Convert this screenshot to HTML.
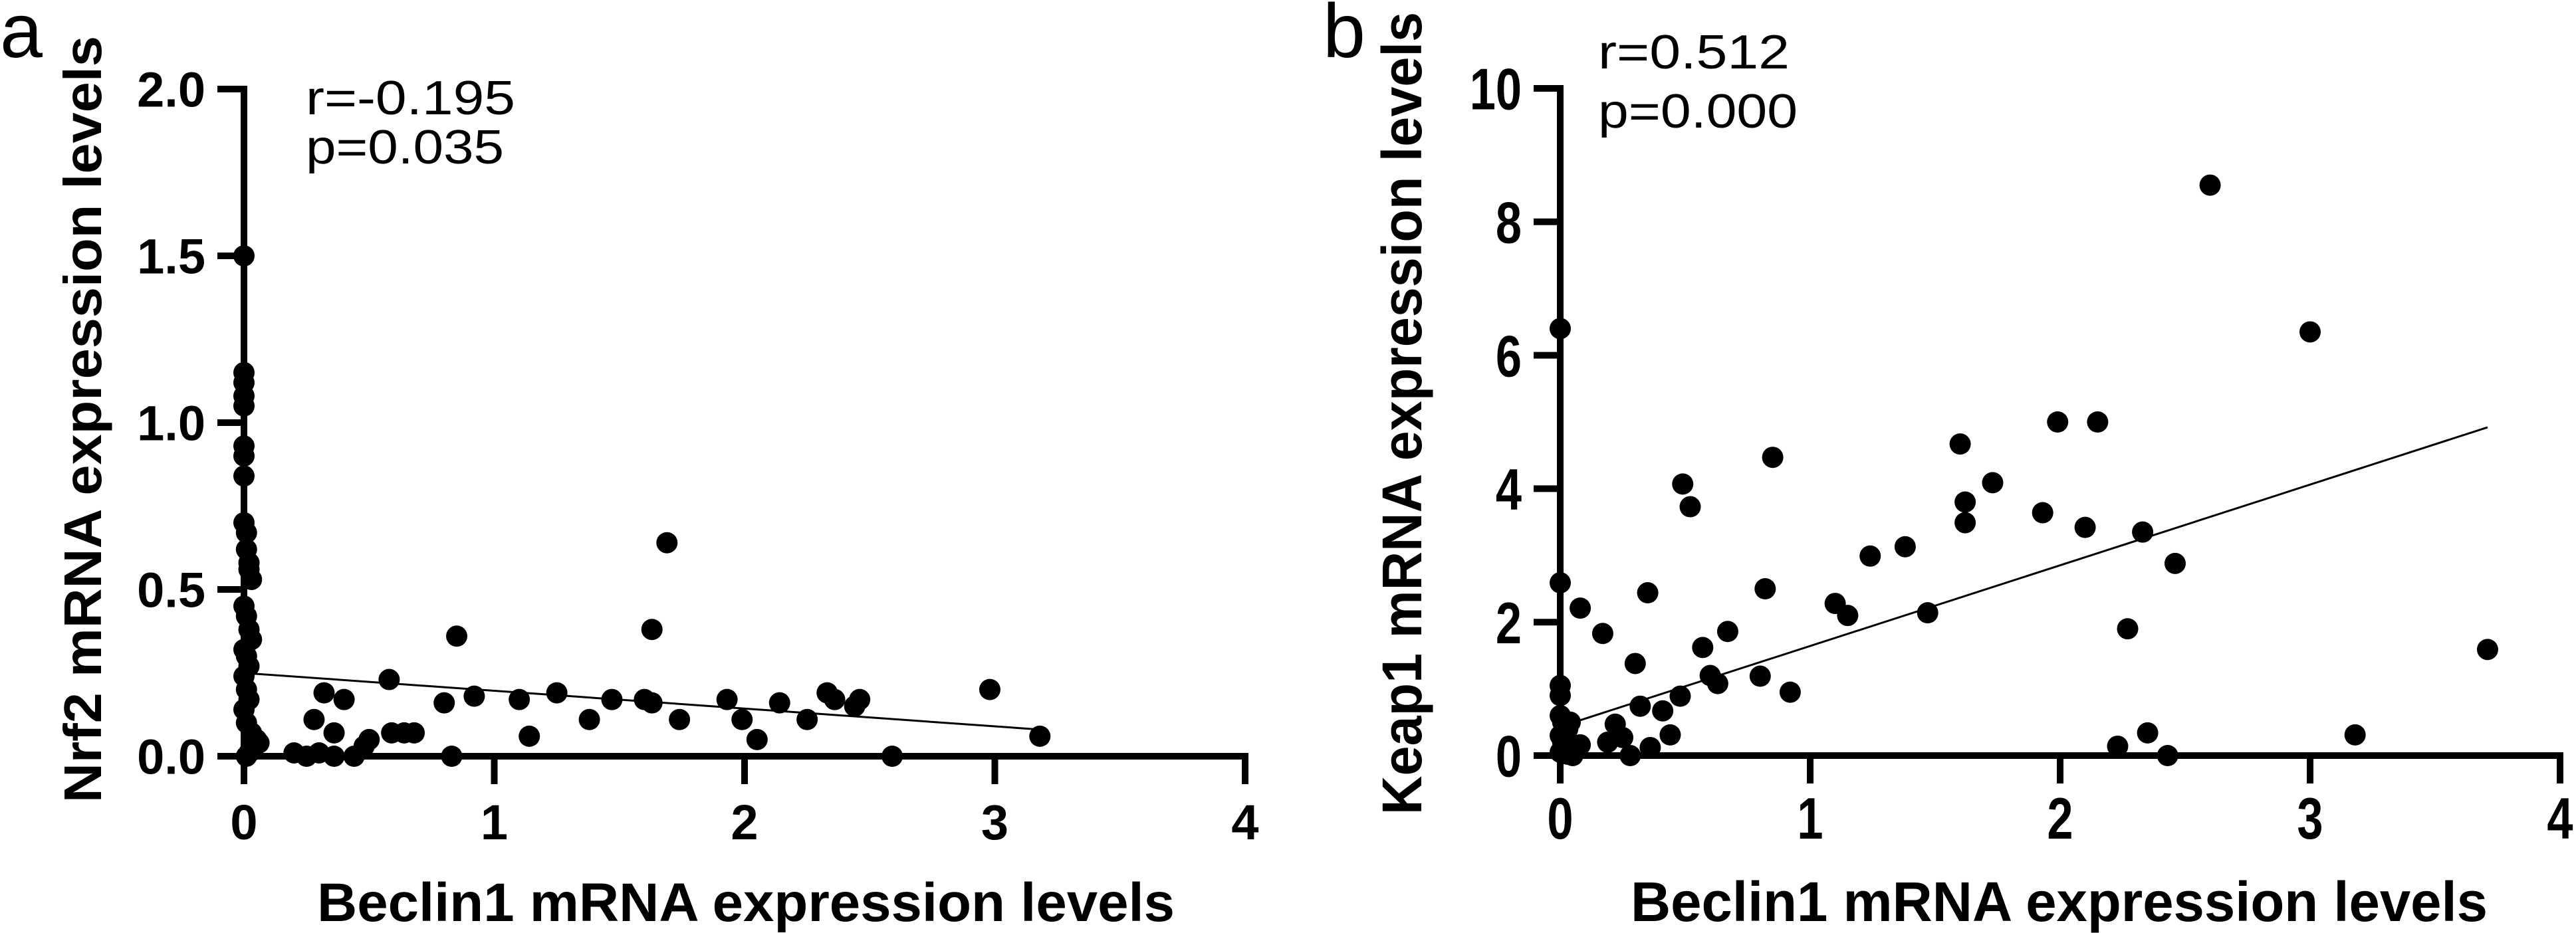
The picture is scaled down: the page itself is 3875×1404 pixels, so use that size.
<!DOCTYPE html>
<html><head><meta charset="utf-8"><style>
html,body{margin:0;padding:0;background:#fff;}
svg{display:block;}
text{font-family:"Liberation Sans",sans-serif;fill:#000;}
.tk{font-weight:bold;}
</style></head><body>
<svg id="chart" width="3875" height="1404" viewBox="0 0 3875 1404" xmlns="http://www.w3.org/2000/svg">
<g id="pa"></g>
<g id="pb"></g>
</svg>
<script>
const NS="http://www.w3.org/2000/svg";
// Panel a data
const aX=[0,0,0,0,0,0,0,0,0,0.01,0.01,0.02,0.02,0.03,0,0.01,0.02,0.03,0,0.01,0.02,0,0.01,0.02,0,0.01,0.03,0.05,0.04,0.02,0.01,0.06,
1.69,0.85,1.63,0.58,0.32,0.40,0.28,0.36,0.80,0.92,1.10,1.14,1.25,1.38,1.47,1.60,1.63,1.74,1.93,1.99,2.05,2.14,2.25,2.33,2.36,2.44,
0.20,0.25,0.30,0.36,0.44,0.48,0.50,0.59,0.64,0.68,0.83,2.46,2.59,2.98,3.18];
const aY=[1.5,1.15,1.12,1.08,1.05,0.93,0.9,0.84,0.7,0.67,0.62,0.58,0.56,0.53,0.45,0.42,0.38,0.35,0.32,0.3,0.27,0.24,0.2,0.17,0.14,0.1,0.07,0.05,0.03,0.01,0.0,0.04,
0.64,0.36,0.38,0.23,0.19,0.17,0.11,0.07,0.16,0.18,0.17,0.06,0.19,0.11,0.17,0.17,0.16,0.11,0.17,0.11,0.05,0.16,0.11,0.19,0.17,0.15,
0.01,0.0,0.01,0.0,0.0,0.03,0.05,0.07,0.07,0.07,0.0,0.17,0.0,0.2,0.06];
const aFitX=[0.03,3.18];
const aFitY=[0.248,0.08];
const aXTicks=["0","1","2","3","4"];
const aYTicks=["0.0","0.5","1.0","1.5","2.0"];
// Panel b data
const bX=[2.60,3.0,0,1.99,2.15,1.60,0.85,0.49,0.52,1.73,1.62,1.62,1.93,2.10,2.33,1.38,1.24,2.46,0,0.35,0.82,1.10,1.15,1.47,0.08,0.17,0.67,2.27,0.57,3.71,0.30,0.60,0.63,0.80,0.92,0,0,0.48,0.32,0.41,0.22,0.44,0.25,0.19,0.36,0.28,2.23,2.35,2.43,3.18,
0,0.01,0.02,0.03,0,0.01,0.02,0,0.04,0.08,0.03,0.05];
const bY=[8.55,6.35,6.4,5.0,5.0,4.67,4.47,4.07,3.73,4.09,3.8,3.49,3.64,3.42,3.35,3.13,2.99,2.88,2.59,2.44,2.5,2.28,2.1,2.14,2.21,1.83,1.86,1.9,1.62,1.59,1.38,1.2,1.08,1.19,0.95,1.05,0.9,0.89,0.74,0.67,0.47,0.31,0.27,0.2,0.12,0,0.14,0.34,0,0.31,
0.6,0.5,0.45,0.4,0.3,0.2,0.1,0.05,0.5,0.16,0.02,0.0];
const bFitX=[0.08,3.71];
const bFitY=[0.53,4.92];
const bXTicks=["0","1","2","3","4"];
const bYTicks=["0","2","4","6","8","10"];

function el(tag,attrs,parent){const e=document.createElementNS(NS,tag);for(const k in attrs)e.setAttribute(k,attrs[k]);parent.appendChild(e);return e;}

function panel(g,cfg){
  const sx=v=>cfg.x0+v*cfg.ppx;
  const sy=v=>cfg.y0-(v-0)*cfg.ppy;
  let e=el('line',{x1:cfg.x0,y1:cfg.y0,x2:sx(cfg.xmax)+5,y2:cfg.y0,stroke:'#000','stroke-width':10},g);
  
  
  e=el('line',{x1:cfg.x0,y1:cfg.y0+5,x2:cfg.x0,y2:sy(cfg.ymax)-5,stroke:'#000','stroke-width':10},g);
  
  
  cfg.xt.forEach((t,i)=>{
    const v=parseFloat(t);
    let l=el('line',{x1:sx(v),y1:cfg.y0,x2:sx(v),y2:cfg.y0+42,stroke:'#000','stroke-width':10},g);
    
    
    let tx=el('text',{x:sx(v),y:cfg.y0+125,'text-anchor':'middle','font-size':cfg.tfs,class:'tk',transform:cfg.cond?`translate(${sx(v)},0) scale(0.8,1) translate(${-sx(v)},0)`:''},g);
    tx.textContent=t;
    
    
  });
  cfg.yt.forEach((t,i)=>{
    const v=parseFloat(t);
    let l=el('line',{x1:cfg.x0-40,y1:sy(v),x2:cfg.x0,y2:sy(v),stroke:'#000','stroke-width':10},g);
    
    
    let tx=el('text',{x:cfg.x0-58,y:sy(v)+cfg.tfs*0.36,'text-anchor':'end','font-size':cfg.tfs,class:'tk',transform:cfg.cond?`translate(${cfg.x0-58},0) scale(0.8,1) translate(${-(cfg.x0-58)},0)`:''},g);
    tx.textContent=t;
    
    
  });
  cfg.px.forEach((v,i)=>{
    let c=el('circle',{cx:sx(v),cy:sy(cfg.py[i]),r:16,fill:'#000'},g);
    
    
  });
  let f=el('line',{x1:sx(cfg.fx[0]),y1:sy(cfg.fy[0]),x2:sx(cfg.fx[1]),y2:sy(cfg.fy[1]),stroke:'#000','stroke-width':3},g);
  
  
}

panel(document.getElementById('pa'),{x0:367,y0:1138,ppx:376.5,ppy:502,xmax:4,ymax:2,xt:aXTicks,yt:aYTicks,px:aX,py:aY,fx:aFitX,fy:aFitY,tfs:74,cond:false});
panel(document.getElementById('pb'),{x0:2347,y0:1137,ppx:376,ppy:100.4,xmax:4,ymax:10,xt:bXTicks,yt:bYTicks,px:bX,py:bY,fx:bFitX,fy:bFitY,tfs:88,cond:true});
</script>
<svg style="position:absolute;left:0;top:0" width="3875" height="1404" xmlns="http://www.w3.org/2000/svg">
<text x="0" y="86" font-size="115">a</text>
<text x="460" y="172" font-size="72" textLength="315" lengthAdjust="spacingAndGlyphs">r=-0.195</text>
<text x="460" y="246" font-size="72" textLength="298" lengthAdjust="spacingAndGlyphs">p=0.035</text>
<text transform="translate(152,1208) rotate(-90)" font-size="80" font-weight="bold" textLength="1154" lengthAdjust="spacingAndGlyphs">Nrf2 mRNA expression levels</text>
<text x="477" y="1386" font-size="82" font-weight="bold" textLength="1290" lengthAdjust="spacingAndGlyphs">Beclin1 mRNA expression levels</text>
<text x="1990" y="86" font-size="115">b</text>
<text x="2404" y="103" font-size="72" textLength="288" lengthAdjust="spacingAndGlyphs">r=0.512</text>
<text x="2404" y="192" font-size="72" textLength="300" lengthAdjust="spacingAndGlyphs">p=0.000</text>
<text transform="translate(2138,1226) rotate(-90)" font-size="84" font-weight="bold" textLength="1208" lengthAdjust="spacingAndGlyphs">Keap1 mRNA expression levels</text>
<text x="2453" y="1386" font-size="84" font-weight="bold" textLength="1289" lengthAdjust="spacingAndGlyphs">Beclin1 mRNA expression levels</text>
</svg>
</body></html>
